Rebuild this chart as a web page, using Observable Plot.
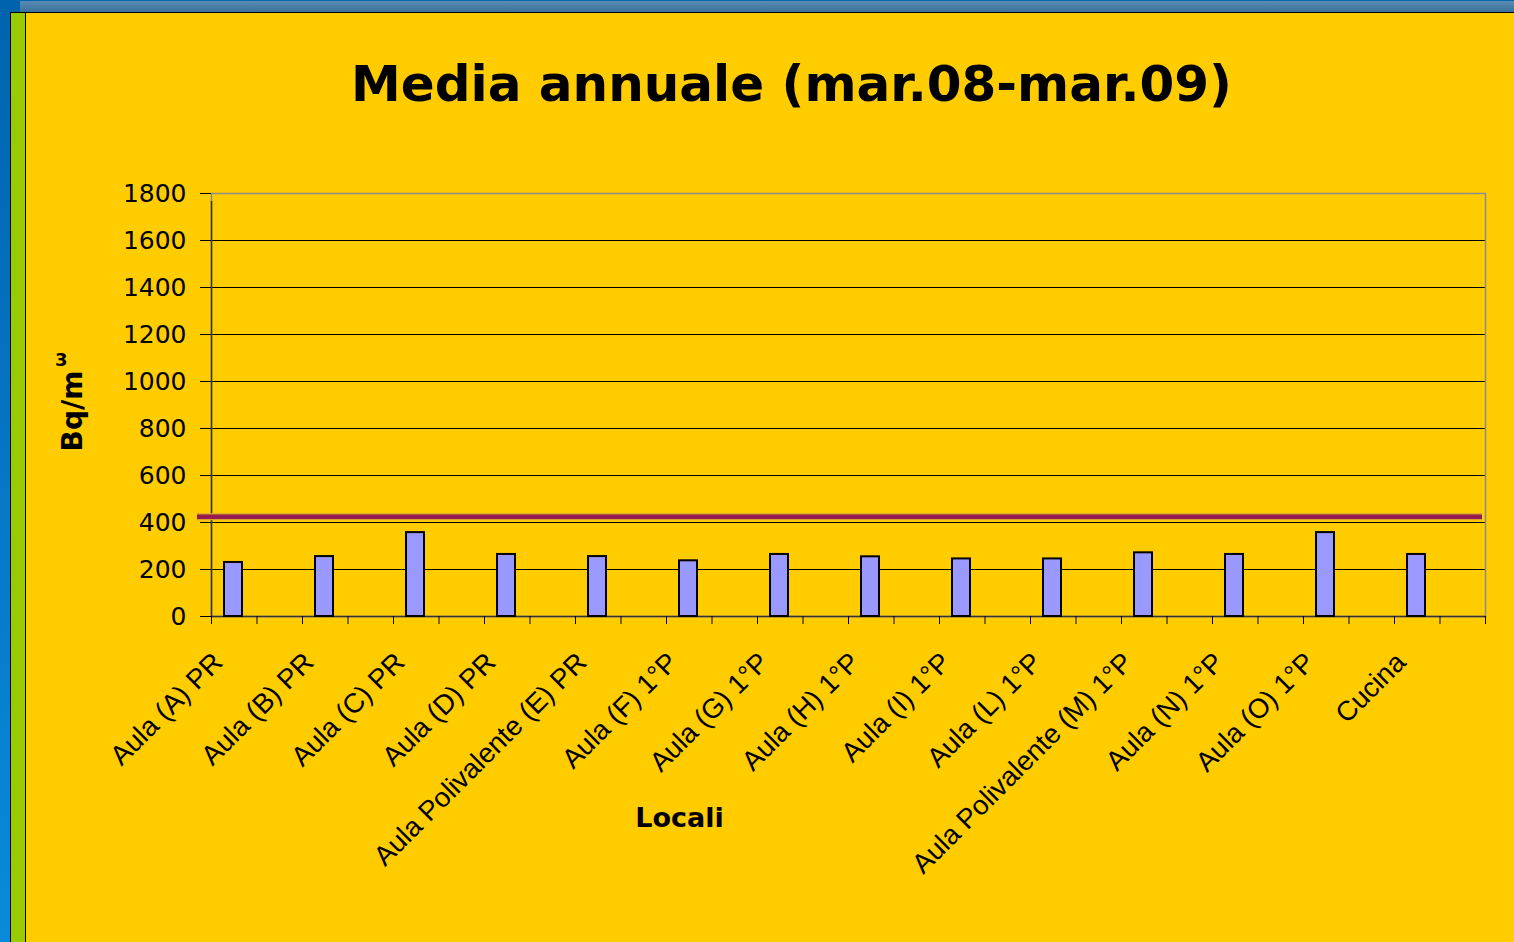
<!DOCTYPE html>
<html>
<head>
<meta charset="utf-8">
<script src="https://cdn.jsdelivr.net/npm/d3@7"></script>
<script src="https://cdn.jsdelivr.net/npm/@observablehq/plot@0.6"></script>
<style>
  html, body { margin:0; padding:0; width:1514px; height:942px; overflow:hidden;
    background: linear-gradient(#0063AE, #0A8ADB); }
  #topstrip { position:absolute; left:20px; top:1px; width:1494px; height:11px;
    background: linear-gradient(#5A8CB3, #3C709B); }
  #panel { position:absolute; left:10px; top:12px; width:1504px; height:930px;
    background:#FFCC00; border-top:1px solid #000; border-left:1px solid #000; box-sizing:border-box; }
  #green { position:absolute; left:11px; top:13px; width:14px; height:929px;
    background:#99CC00; border-right:1px solid #000; }
  #chart { position:absolute; left:26px; top:140px; }
  .lbl { position:absolute; font-family:"DejaVu Sans", sans-serif; font-weight:bold; color:#000; white-space:nowrap; }
  #title { left:0; width:1583px; top:59px; font-size:50px; line-height:50px; text-align:center; }
  #xtitle { left:0; width:1359px; top:804px; font-size:27px; line-height:27px; text-align:center; }
  #ytitle { left:-26.7px; top:397px; width:200px; height:28px; font-size:28px; line-height:28px; text-align:center;
    transform: rotate(-90deg); }
  #ysup { left:55px; top:351px; font-size:18px; line-height:18px; }
</style>
</head>
<body>
<div id="topstrip"></div>
<div id="panel"></div>
<div id="green"></div>
<div id="chart"></div>
<div class="lbl" id="title">Media annuale (mar.08-mar.09)</div>
<div class="lbl" id="ytitle">Bq/m</div>
<div class="lbl" id="ysup">3</div>
<div class="lbl" id="xtitle">Locali</div>
<script>
const locali = ["Aula (A) PR","Aula (B) PR","Aula (C) PR","Aula (D) PR","Aula Polivalente (E) PR",
  "Aula (F) 1°P","Aula (G) 1°P","Aula (H) 1°P","Aula (I) 1°P","Aula (L) 1°P",
  "Aula Polivalente (M) 1°P","Aula (N) 1°P","Aula (O) 1°P","Cucina"];
const media = [230, 255, 357, 264, 255, 237, 264, 254, 245, 245, 271, 264, 357, 264];
const soglia = [425];
const yTicks = [0, 200, 400, 600, 800, 1000, 1200, 1400, 1600, 1800];

const data = locali.map((l, i) => ({locale: l, valore: media[i]}));
const xDomain = locali.flatMap((l, i) => [l, "gap" + i]);
const half = 1274 / xDomain.length / 2;

const chart = Plot.plot({
  width: 1488, height: 802,
  marginLeft: 185, marginRight: 29, marginTop: 53, marginBottom: 326,
  style: {background: "transparent", fontFamily: "DejaVu Sans", overflow: "visible"},
  x: {type: "band", domain: xDomain, paddingInner: 0, paddingOuter: 0, round: false, axis: null},
  y: {domain: [0, 1800], axis: null},
  marks: [
    Plot.ruleY(yTicks.filter(t => t > 0 && t < 1800), {stroke: "black", strokeWidth: 1}),
    Plot.frame({stroke: "#8C8C8C", strokeWidth: 1.5}),
    Plot.ruleY([0], {stroke: "#333", strokeWidth: 1.5}),
    Plot.ruleX([xDomain[0]], {y1: 0, y2: 1800, dx: -half, insetBottom: -8, stroke: "#333", strokeWidth: 1.5}),
    Plot.ruleX(xDomain, {y1: 0, y2: 0, dx: -half, insetBottom: -8, stroke: "black"}),
    Plot.ruleX([xDomain[xDomain.length - 1]], {y1: 0, y2: 0, dx: half, insetBottom: -8, stroke: "black"}),
    Plot.axisY({ticks: yTicks, tickSize: 11, tickPadding: 14, fontSize: 25, color: "black", label: null, tickFormat: d => String(d)}),
    Plot.ruleY(soglia, {stroke: "#D9A12B", strokeWidth: 7, insetLeft: -14, insetRight: 3}),
    Plot.ruleY(soglia, {stroke: "#951B51", strokeWidth: 4.5, insetLeft: -14, insetRight: 3}),
    Plot.barY(data, {x: "locale", y: "valore", fill: "#9999FF", stroke: "black", strokeWidth: 2, insetLeft: 13, insetRight: 14.5}),
    Plot.text(locali, {x: d => d, frameAnchor: "bottom", dx: -10, dy: 47.5, rotate: -45,
      textAnchor: "end", lineAnchor: "bottom", fontSize: 27.5, fontFamily: "Liberation Sans", fill: "black"})
  ]
});
document.getElementById("chart").appendChild(chart);
</script>
</body>
</html>
